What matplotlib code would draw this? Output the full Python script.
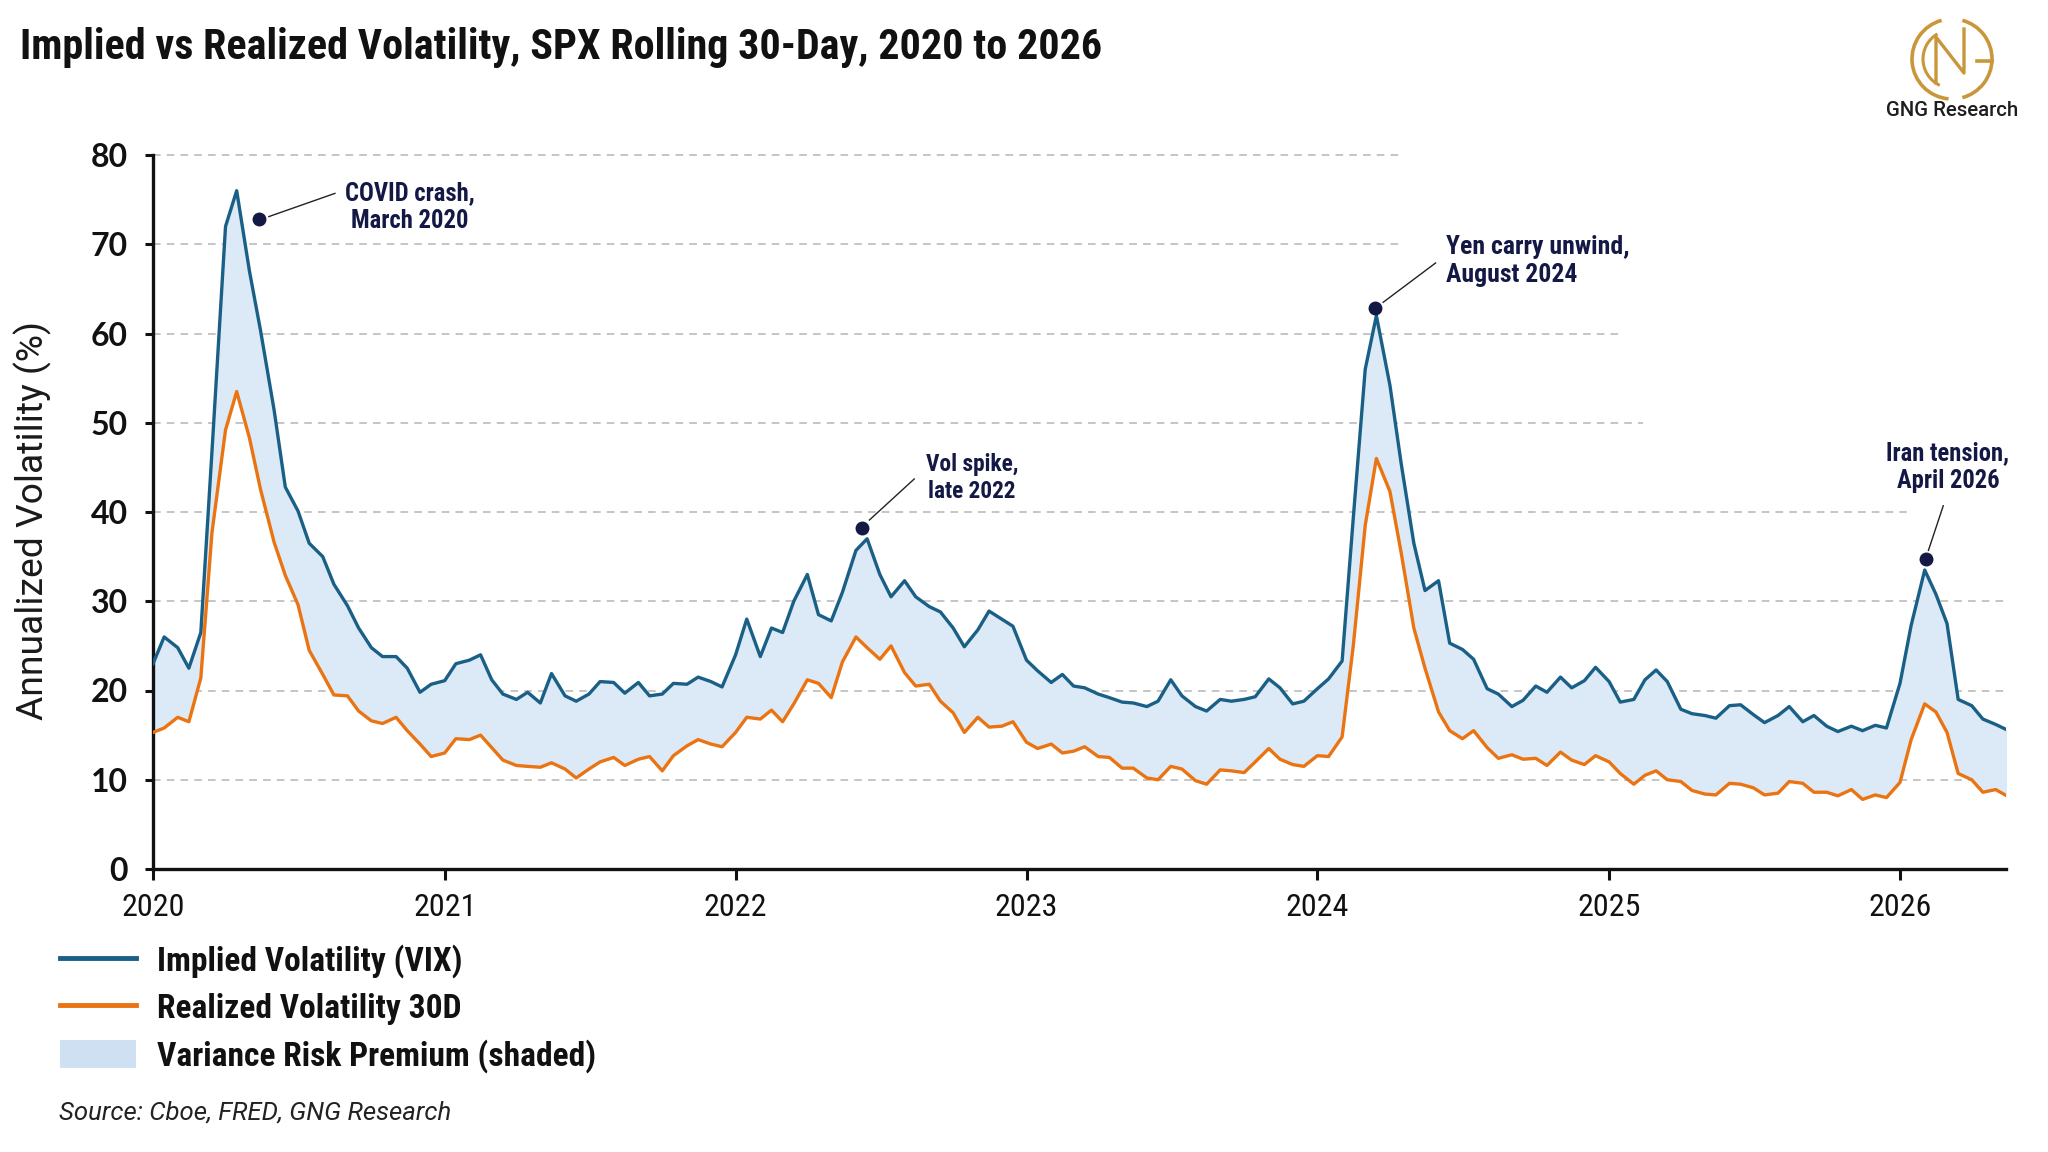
import matplotlib
matplotlib.use("Agg")
import matplotlib.pyplot as plt
import matplotlib.dates as mdates
from matplotlib.lines import Line2D
from matplotlib.patches import Patch, Arc
import pandas as pd

# semi-monthly observations, Jan 2020 to mid May 2026
dates = pd.date_range("2020-01-01", periods=154, freq="SMS")

vix = [
    23.0, 26.0, 24.8, 22.5, 26.5, 46.8, 72.0, 76.0, 67.0, 60.3,
    51.4, 42.8, 40.1, 36.5, 35.0, 31.9, 29.5, 27.0, 24.8, 23.8,
    23.8, 22.5, 19.8, 20.7, 21.1, 23.0, 23.4, 24.0, 21.2, 19.6,
    19.0, 19.8, 18.6, 21.9, 19.4, 18.8, 19.6, 21.0, 20.9, 19.7,
    20.9, 19.4, 19.6, 20.8, 20.7, 21.5, 21.0, 20.4, 24.0, 28.0,
    23.8, 27.0, 26.5, 30.0, 33.0, 28.5, 27.8, 31.0, 35.7, 37.0,
    33.0, 30.5, 32.3, 30.5, 29.4, 28.8, 27.0, 24.9, 26.8, 28.9,
    28.0, 27.2, 23.4, 22.2, 20.9, 21.8, 20.5, 20.3, 19.6, 19.2,
    18.7, 18.6, 18.2, 18.8, 21.2, 19.4, 18.2, 17.7, 19.0, 18.8,
    19.0, 19.3, 21.3, 20.3, 18.5, 18.8, 20.2, 21.3, 23.3, 39.3,
    56.0, 62.0, 54.2, 45.5, 36.5, 31.2, 32.3, 25.3, 24.6, 23.5,
    20.2, 19.6, 18.2, 18.9, 20.5, 19.8, 21.5, 20.3, 21.1, 22.6,
    21.0, 18.7, 19.0, 21.2, 22.3, 21.0, 17.9, 17.4, 17.2, 16.9,
    18.3, 18.4, 17.3, 16.4, 17.2, 18.2, 16.5, 17.2, 16.0, 15.4,
    16.0, 15.5, 16.1, 15.8, 20.8, 27.3, 33.5, 30.8, 27.5, 19.0,
    18.3, 16.8, 16.2, 15.6,
]

realized = [
    15.3, 15.8, 17.0, 16.5, 21.4, 37.7, 49.2, 53.5, 48.3, 42.5,
    36.6, 32.9, 29.6, 24.5, 21.8, 19.5, 19.4, 17.7, 16.6, 16.3,
    17.0, 15.5, 14.0, 12.6, 13.0, 14.6, 14.5, 15.0, 13.6, 12.2,
    11.6, 11.5, 11.4, 11.9, 11.2, 10.2, 11.2, 12.0, 12.5, 11.6,
    12.3, 12.6, 11.0, 12.7, 13.8, 14.5, 14.0, 13.7, 15.3, 17.0,
    16.8, 17.8, 16.5, 18.5, 21.2, 20.8, 19.2, 23.2, 26.0, 24.8,
    23.5, 25.0, 22.0, 20.5, 20.7, 18.8, 17.5, 15.3, 17.0, 15.9,
    16.0, 16.5, 14.2, 13.5, 14.0, 13.0, 13.2, 13.7, 12.6, 12.5,
    11.3, 11.3, 10.2, 10.0, 11.5, 11.2, 9.9, 9.5, 11.1, 11.0,
    10.8, 12.0, 13.5, 12.3, 11.7, 11.5, 12.7, 12.6, 14.8, 25.0,
    38.5, 46.0, 42.3, 35.5, 27.0, 22.5, 17.6, 15.5, 14.6, 15.5,
    13.6, 12.4, 12.8, 12.3, 12.4, 11.6, 13.1, 12.2, 11.7, 12.7,
    12.0, 10.7, 9.5, 10.5, 11.0, 10.0, 9.8, 8.8, 8.4, 8.3,
    9.6, 9.5, 9.1, 8.3, 8.5, 9.8, 9.6, 8.6, 8.6, 8.2,
    8.9, 7.8, 8.3, 8.0, 9.7, 14.5, 18.5, 17.6, 15.3, 10.7,
    10.0, 8.6, 8.9, 8.2,
]

# events: dot date, dot value, label
event_dates = ["2020-05-13", "2022-06-08", "2024-03-13", "2026-02-02"]
event_values = [72.8, 38.2, 62.9, 34.7]
event_labels = ["COVID crash,\nMarch 2020", "Vol spike,\nlate 2022",
                "Yen carry unwind,\nAugust 2024", "Iran tension,\nApril 2026"]

BLUE = "#1a5f86"
ORANGE = "#ea7412"
FILL = "#dce9f7"
NAVY = "#141845"
COND = ["Roboto Condensed", "Roboto", "DejaVu Sans"]
PLAIN = ["Roboto", "DejaVu Sans"]

plt.rcParams["font.family"] = COND

fig = plt.figure(figsize=(20.48, 11.52), dpi=100)
ax = fig.add_axes([153 / 2048, 283 / 1152, 1853 / 2048, 714 / 1152])
renderer = fig.canvas.get_renderer()


def fit(txt, target, vertical=False):
    # scale font so the text spans the width seen in the original
    bb = txt.get_window_extent(renderer)
    size = bb.height if vertical else bb.width
    txt.set_fontsize(txt.get_fontsize() * target / size)
    return txt.get_fontsize()


x = pd.to_datetime(dates)
ax.fill_between(x, realized, vix, color=FILL, lw=0, zorder=1)
ax.plot(x, vix, color=BLUE, lw=2.4, zorder=3)
ax.plot(x, realized, color=ORANGE, lw=2.4, zorder=3)

ax.set_ylim(0, 80)
ax.set_xlim(pd.Timestamp("2020-01-01"), pd.Timestamp("2026-05-14"))

# dashed grid, cut short where the notes sit
grid_levels = [10, 20, 30, 40, 50, 60, 70, 80]
grid_ends = [1.0, 1.0, 1.0, 0.948, 0.804, 0.793, 0.673, 0.673]
for lvl, end in zip(grid_levels, grid_ends):
    ax.axhline(lvl, xmin=0, xmax=end, color="#b5b5b5", lw=1.1,
               ls=(0, (5, 4)), zorder=0, clip_on=False)

for s in ["top", "right"]:
    ax.spines[s].set_visible(False)
for s in ["left", "bottom"]:
    ax.spines[s].set_linewidth(2.4)
    ax.spines[s].set_color("#111111")

ax.set_yticks(range(0, 81, 10))
ax.xaxis.set_major_locator(mdates.YearLocator())
ax.xaxis.set_major_formatter(mdates.DateFormatter("%Y"))
ax.tick_params(axis="x", length=8, width=2.2, pad=9, labelsize=23, colors="#111111")
ax.tick_params(axis="y", length=6, width=2.2, pad=12, labelsize=23, colors="#111111")
for lab in ax.get_yticklabels():
    lab.set_fontfamily(["Lato", "DejaVu Sans"])
    lab.set_fontweight("bold")

# leader line start, line end, text anchor (decimal years), alignment, width of first line
notes = [((2020.398, 73.1), (2020.625, 75.7), (2020.883, 74.2), "center", 130),
         ((2022.461, 39.1), (2022.615, 43.7), (2022.813, 43.8), "center", 93),
         ((2024.226, 63.5), (2024.406, 67.9), (2024.442, 68.1), "left", 183),
         ((2026.099, 35.7), (2026.150, 40.7), (2026.166, 45.0), "center", 123)]


def yr(v):
    return pd.Timestamp("2020-01-01") + pd.Timedelta(days=(v - 2020) * 365.25)


for d, v, lab, (p0, p1, pt, ha, w) in zip(event_dates, event_values, event_labels, notes):
    ax.plot(pd.Timestamp(d), v, "o", color=NAVY, ms=9, zorder=5)
    ax.plot([yr(p0[0]), yr(p1[0])], [p0[1], p1[1]], color="#222222", lw=1.0, zorder=4)
    first = ax.text(0, 0, lab.split("\n")[0], fontsize=18, fontweight="bold")
    size = fit(first, w)
    first.remove()
    ax.text(yr(pt[0]), pt[1], lab, ha=ha, va="center", fontsize=size,
            fontweight="bold", color=NAVY, linespacing=1.2, zorder=6)

ylab = fig.text(33 / 2048, 1 - 520 / 1152, "Annualized Volatility (%)", rotation=90,
                ha="center", va="center", fontsize=25, color="#1a1a1a",
                fontfamily=PLAIN)
fit(ylab, 398, vertical=True)

title = fig.text(20 / 2048, 1 - 48 / 1152,
                 "Implied vs Realized Volatility, SPX Rolling 30-Day, 2020 to 2026",
                 ha="left", va="center", fontsize=30, fontweight="bold", color="#111111")
fit(title, 1084)

handles = [Line2D([], [], color=BLUE, lw=3.5),
           Line2D([], [], color=ORANGE, lw=3.5),
           Patch(facecolor="#cfe0f2", edgecolor="none")]
labels = ["Implied Volatility (VIX)", "Realized Volatility 30D",
          "Variance Risk Premium (shaded)"]
probe = fig.text(0, 0, labels[2], fontsize=23, fontweight="bold")
leg_size = fit(probe, 440)
probe.remove()
px_per_em = leg_size * 100 / 72
leg = fig.legend(handles, labels, loc="upper left",
                 bbox_to_anchor=(60 / 2048, 1 - 944 / 1152), frameon=False,
                 prop={"family": COND, "weight": "bold", "size": leg_size},
                 handlelength=76 / px_per_em, handleheight=30 / px_per_em,
                 handletextpad=21 / px_per_em,
                 labelspacing=(44.5 - 30) / px_per_em, borderpad=0, borderaxespad=0)
for t in leg.get_texts():
    t.set_color("#111111")

src = fig.text(59 / 2048, 1 - 1113 / 1152, "Source: Cboe, FRED, GNG Research",
               ha="left", va="center", fontsize=19, style="italic", color="#222222",
               fontfamily=PLAIN)
fit(src, 392)

# logo: G, N, G monogram in a gold ring
GOLD = "#c9973a"
lax = fig.add_axes([(1952 - 50) / 2048, (1152 - 59 - 50) / 1152, 100 / 2048, 100 / 1152])
lax.set_xlim(-1.25, 1.25)
lax.set_ylim(-1.25, 1.25)
lax.set_aspect("equal")
lax.axis("off")
lax.add_patch(Arc((0, 0), 2, 2, theta1=105, theta2=265, color=GOLD, lw=2.6))
lax.add_patch(Arc((0, 0), 1.45, 1.45, theta1=120, theta2=245, color=GOLD, lw=2.2))
lax.add_patch(Arc((0, 0), 2, 2, theta1=-75, theta2=75, color=GOLD, lw=2.6))
lax.plot([0.62, 1.0], [-0.05, -0.05], color=GOLD, lw=2.6)
lax.plot([-0.4, -0.4, 0.3, 0.3], [-0.6, 0.55, -0.35, 0.75], color=GOLD, lw=2.4)
logo_txt = fig.text(1952 / 2048, 1 - 111 / 1152, "GNG Research", ha="center", va="center",
                    fontsize=14, color="#1e1e1e", fontfamily=PLAIN, fontweight="medium")
fit(logo_txt, 133)

fig.savefig("out.png", dpi=100, facecolor="white")
